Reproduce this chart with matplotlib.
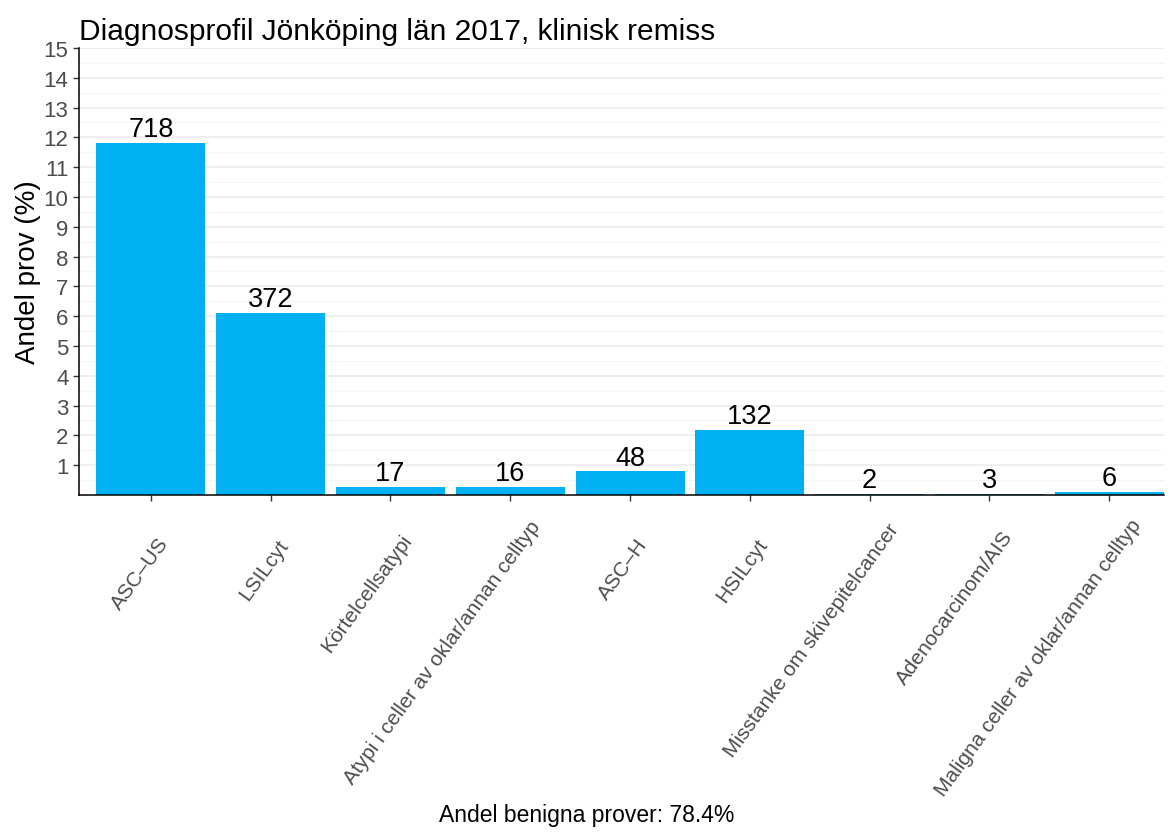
import matplotlib
matplotlib.use("Agg")
import matplotlib.pyplot as plt
import matplotlib.transforms as mtransforms
import numpy as np

plt.rcParams['font.family'] = ['Liberation Sans', 'DejaVu Sans']

# Data
categories = ["ASC\u2013US", "LSILcyt", "Körtelcellsatypi", "Atypi i celler av oklar/annan celltyp",
              "ASC\u2013H", "HSILcyt", "Misstanke om skivepitelcancer", "Adenocarcinom/AIS",
              "Maligna celler av oklar/annan celltyp"]
counts = [718, 372, 17, 16, 48, 132, 2, 3, 6]
percent = [11.8, 6.12, 0.28, 0.26, 0.79, 2.17, 0.033, 0.05, 0.1]
y_ticks = list(range(1, 16))

fig = plt.figure(figsize=(11.74, 8.37), dpi=100)
ax = fig.add_axes([0.0673, 0.4074, 0.9242, 0.5341])

x = np.arange(len(categories))
ax.bar(x, percent, width=0.91, color='#00B0F0', zorder=2)

# Count labels above bars
for xi, p, n in zip(x, percent, counts):
    ax.text(xi, p + 0.03, str(n), ha='center', va='bottom', fontsize=19.5, color='black', zorder=3)

ax.set_xlim(-0.6, 8.457)
ax.set_ylim(0, 15)
ax.set_yticks(y_ticks)
ax.set_yticks(np.arange(0.5, 15.5, 1), minor=True)
ax.grid(axis='y', which='major', color='#EBEBEB', linewidth=1.1, zorder=0)
ax.grid(axis='y', which='minor', color='#F3F3F3', linewidth=0.6, zorder=0)
ax.tick_params(axis='y', which='minor', length=0)
ax.tick_params(axis='both', which='major', labelsize=15, labelcolor='#4D4D4D',
               color='#333333', length=4.5, width=1)
ax.tick_params(axis='y', labelsize=16, pad=3)
ax.set_xticks(x)
angle = 54
ax.set_xticklabels(categories, rotation=angle, ha='right', va='top', rotation_mode='anchor')

for side in ['top', 'right']:
    ax.spines[side].set_visible(False)
for side in ['left', 'bottom']:
    ax.spines[side].set_color('black')
    ax.spines[side].set_linewidth(1.1)

ax.set_ylabel("Andel prov (%)", fontsize=20, labelpad=2)
fig.text(0.5, 0.026, "Andel benigna prover: 78.4%", ha='center', va='center', fontsize=16.5)
fig.text(0.0673, 0.962, "Diagnosprofil Jönköping län 2017, klinisk remiss", ha='left', va='center', fontsize=21.5)

# Shift rotated labels a bit (like hjust ~0.9 in ggplot)
fig.canvas.draw()
renderer = fig.canvas.get_renderer()
ux, uy = np.cos(np.radians(angle)), np.sin(np.radians(angle))
for lab in ax.get_xticklabels():
    w, h, d = renderer.get_text_width_height_descent(lab.get_text(), lab.get_fontproperties(), ismath=False)
    along = 0.09 * w
    perp = 10.0
    dx = along * ux + perp * uy - 6
    dy = along * uy - perp * ux - 28
    off = mtransforms.ScaledTranslation(dx / 100.0, dy / 100.0, fig.dpi_scale_trans)
    lab.set_transform(lab.get_transform() + off)

fig.savefig("out.png", dpi=100)
